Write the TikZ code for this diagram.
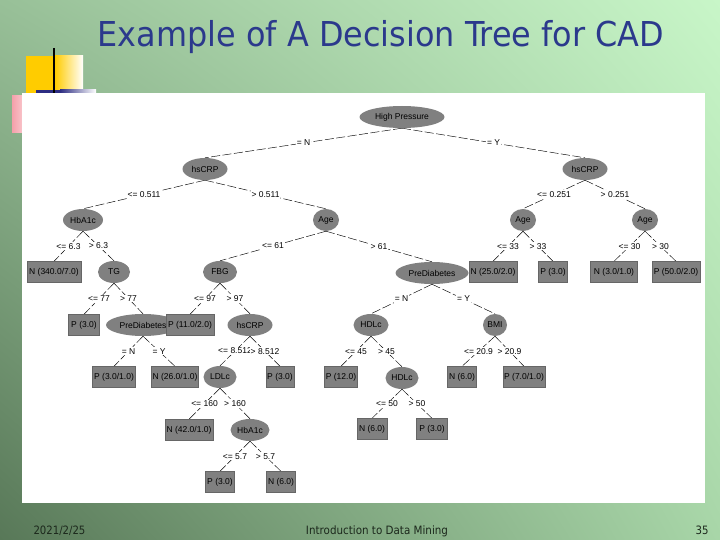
\documentclass[tikz,border=0pt]{standalone}
\usepackage{fontspec}
\setmainfont{Liberation Sans}
\newfontfamily\titlefont{DejaVu Sans}
\usetikzlibrary{shapes.geometric,shadings}
\definecolor{bgUL}{RGB}{152,192,152}
\definecolor{bgUR}{RGB}{200,246,200}
\definecolor{bgLL}{RGB}{88,120,88}
\definecolor{bgLR}{RGB}{168,214,168}
\definecolor{titleblue}{RGB}{43,57,140}
\definecolor{nodegray}{RGB}{128,128,128}
\definecolor{footc}{RGB}{28,40,28}
\definecolor{decoyellow}{RGB}{255,204,0}
\definecolor{deconavy}{RGB}{45,45,130}
\definecolor{decopink}{RGB}{245,160,170}
\pgfdeclarelayer{bg}
\pgfdeclarelayer{edges}
\pgfsetlayers{bg,edges,main}
\tikzset{
  x=1pt, y=-1pt,
  ell/.style={ellipse, fill=nodegray, inner sep=0pt, minimum width=#1, minimum height=22pt,
    font=\fontsize{8.5}{9}\selectfont},
  leaf/.style={rectangle, fill=nodegray, draw=black!60, line width=0.4pt, inner sep=0pt,
    minimum width=#1, minimum height=21pt, font=\fontsize{8.5}{9}\selectfont},
  edge/.style={black, line width=0.45pt, dash pattern=on 9pt off 2.5pt},
  lab/.style={fill=white, inner sep=1pt, font=\fontsize{8.5}{9}\selectfont},
  foottext/.style={text=footc, font=\titlefont\fontsize{11.5}{13}\selectfont},
}
\begin{document}
\begin{tikzpicture}
\useasboundingbox (0,0) rectangle (720,540);
\begin{pgfonlayer}{bg}
  \shade[upper left=bgUL, upper right=bgUR, lower left=bgLL, lower right=bgLR] (0,0) rectangle (720,540);
  \shade[left color=decopink, right color=white] (12,96) rectangle (40,133);
  \fill[white] (22,93) rectangle (705,503);
  \fill[decoyellow] (26,56) rectangle (55,93);
  \shade[left color=decoyellow, right color=white] (55,56) rectangle (83,93);
  \fill[deconavy] (36,90) rectangle (60,93);
  \shade[left color=deconavy, right color=white] (60,90) rectangle (96,93);
  \draw[black, line width=1.4pt] (54,48) -- (54,93);
\end{pgfonlayer}

\node[anchor=base, text=titleblue] (title) at (381,47)
  {\scalebox{0.93}[1]{\titlefont\fontsize{34.3}{38}\selectfont Example of A Decision Tree for CAD}};
\node[anchor=base west, foottext] (date) at (30,534) {\scalebox{0.88}[1]{2021/2/25}};
\node[anchor=base, foottext] (foot) at (377,534) {\scalebox{0.9}[1]{Introduction to Data Mining}};
\node[anchor=base east, foottext] (page) at (712,534) {\scalebox{0.88}[1]{35}};

% row 1-3
\node[ell=85pt] (hp) at (402,117) {High Pressure};
\node[ell=45pt] (c1) at (205,169) {hsCRP};
\node[ell=45pt] (c2) at (585,169) {hsCRP};
\node[ell=40pt] (h1) at (83,220) {HbA1c};
\node[ell=26pt] (a1) at (326,220) {Age};
\node[ell=26pt] (a2) at (523,220) {Age};
\node[ell=26pt] (a3) at (645,220) {Age};
% row 4
\node[leaf=54pt] (l1) at (54,272) {N (340.0/7.0)};
\node[ell=32pt] (tg) at (114,272) {TG};
\node[ell=34pt] (fbg) at (220,272) {FBG};
\node[ell=73pt] (pd2) at (432,273) {PreDiabetes};
\node[leaf=48pt] (l2) at (493,272) {N (25.0/2.0)};
\node[leaf=29pt] (l3) at (553,272) {P (3.0)};
\node[leaf=47pt] (l4) at (614,272) {N (3.0/1.0)};
\node[leaf=48pt] (l5) at (676,272) {P (50.0/2.0)};
% row 5
\node[leaf=31pt] (l6) at (84,325) {P (3.0)};
\node[ell=74pt] (pd1) at (143,325) {PreDiabetes};
\node[leaf=48pt] (l7) at (190,325) {P (11.0/2.0)};
\node[ell=45pt] (c3) at (250,325) {hsCRP};
\node[ell=35pt] (hd1) at (371,325) {HDLc};
\node[ell=24pt] (bmi) at (495,325) {BMI};
% row 6
\node[leaf=43pt] (l8) at (114,377) {P (3.0/1.0)};
\node[leaf=47pt] (l9) at (175,377) {N (26.0/1.0)};
\node[ell=33pt] (ldl) at (220,377) {LDLc};
\node[leaf=28pt] (l10) at (280,377) {P (3.0)};
\node[leaf=33pt] (l11) at (341,377) {P (12.0)};
\node[ell=33pt] (hd2) at (402,378) {HDLc};
\node[leaf=29pt] (l12) at (462,377) {N (6.0)};
\node[leaf=42pt] (l13) at (524,377) {P (7.0/1.0)};
% row 7
\node[leaf=48pt] (l14) at (189,430) {N (42.0/1.0)};
\node[ell=39pt] (h2) at (250,430) {HbA1c};
\node[leaf=30pt] (l15) at (372,429) {N (6.0)};
\node[leaf=31pt] (l16) at (432,429) {P (3.0)};
% row 8
\node[leaf=29pt] (l17) at (220,482) {P (3.0)};
\node[leaf=29pt] (l18) at (281,482) {N (6.0)};

\begin{pgfonlayer}{edges}
  \draw[edge] (hp.south) -- node[lab] {= N} (c1.north);
  \draw[edge] (hp.south) -- node[lab] {= Y} (c2.north);
  \draw[edge] (c1.south) -- node[lab] {<= 0.511} (h1.north);
  \draw[edge] (c1.south) -- node[lab] {> 0.511} (a1.north);
  \draw[edge] (c2.south) -- node[lab] {<= 0.251} (a2.north);
  \draw[edge] (c2.south) -- node[lab] {> 0.251} (a3.north);
  \draw[edge] (h1.south) -- node[lab] {<= 6.3} (l1.north);
  \draw[edge] (h1.south) -- node[lab] {> 6.3} (tg.north);
  \draw[edge] (a1.south) -- node[lab] {<= 61} (fbg.north);
  \draw[edge] (a1.south) -- node[lab] {> 61} (pd2.north);
  \draw[edge] (a2.south) -- node[lab] {<= 33} (l2.north);
  \draw[edge] (a2.south) -- node[lab] {> 33} (l3.north);
  \draw[edge] (a3.south) -- node[lab] {<= 30} (l4.north);
  \draw[edge] (a3.south) -- node[lab] {> 30} (l5.north);
  \draw[edge] (tg.south) -- node[lab] {<= 77} (l6.north);
  \draw[edge] (tg.south) -- node[lab] {> 77} (pd1.north);
  \draw[edge] (fbg.south) -- node[lab] {<= 97} (l7.north);
  \draw[edge] (fbg.south) -- node[lab] {> 97} (c3.north);
  \draw[edge] (pd2.south) -- node[lab] {= N} (hd1.north);
  \draw[edge] (pd2.south) -- node[lab] {= Y} (bmi.north);
  \draw[edge] (pd1.south) -- node[lab] {= N} (l8.north);
  \draw[edge] (pd1.south) -- node[lab] {= Y} (l9.north);
  \draw[edge] (c3.south) -- node[lab] {<= 8.512} (ldl.north);
  \draw[edge] (c3.south) -- node[lab] {> 8.512} (l10.north);
  \draw[edge] (hd1.south) -- node[lab] {<= 45} (l11.north);
  \draw[edge] (hd1.south) -- node[lab] {> 45} (hd2.north);
  \draw[edge] (bmi.south) -- node[lab] {<= 20.9} (l12.north);
  \draw[edge] (bmi.south) -- node[lab] {> 20.9} (l13.north);
  \draw[edge] (ldl.south) -- node[lab] {<= 160} (l14.north);
  \draw[edge] (ldl.south) -- node[lab] {> 160} (h2.north);
  \draw[edge] (hd2.south) -- node[lab] {<= 50} (l15.north);
  \draw[edge] (hd2.south) -- node[lab] {> 50} (l16.north);
  \draw[edge] (h2.south) -- node[lab] {<= 5.7} (l17.north);
  \draw[edge] (h2.south) -- node[lab] {> 5.7} (l18.north);
\end{pgfonlayer}
\end{tikzpicture}
\end{document}
